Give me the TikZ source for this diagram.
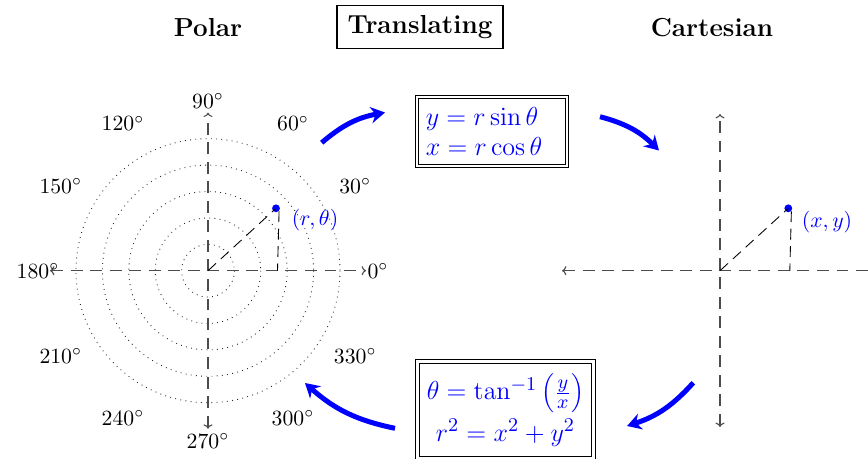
\documentclass[tikz,border=0pt]{standalone}
\usetikzlibrary{arrows.meta,calc}
\begin{document}
\begin{tikzpicture}[x=0.4608pt,y=-0.4608pt,
  title/.style={font=\large\bfseries},
  deg/.style={font=\normalsize},
  axis/.style={draw=black!70, line width=0.5pt, dash pattern=on 5.5pt off 3.5pt, {To[length=2pt]}-{To[length=2pt]}},
  ring/.style={draw=black!85, dotted, line width=0.4pt},
  helper/.style={draw=black, line width=0.4pt, dash pattern=on 5pt off 3pt},
  dotpt/.style={circle, fill=blue, inner sep=0pt, minimum size=3.6pt},
  ptlabel/.style={text=blue, font=\normalsize},
  formula/.style={draw, double, double distance=1.2pt, line width=0.4pt, text=blue},
  flow/.style={blue, line width=2.3pt, -{Stealth[length=6.5pt,width=7.5pt]}, bend left=15}
]
\clip (0,0) rectangle (868,458);
% titles
\node[title] (tp) at (208,28) {Polar};
\node[title, draw, thick, inner xsep=5pt, inner ysep=4.5pt] (tt) at (420,27) {Translating};
\node[title] (tc) at (712,28) {Cartesian};
% polar grid
\coordinate (P) at (208,270.7);
\foreach \k in {1,...,5} \draw[ring] (P) circle[radius={26.4*\k}];
\coordinate (PL) at (50,270.7);
\coordinate (PR) at (366,270.7);
\coordinate (PT) at (208,112.7);
\coordinate (PB) at (208,428.7);
\draw[axis] (PL) -- (PR);
\draw[axis] (PB) -- (PT);
\foreach \a in {0,30,...,330}
  \node[deg] (d\a) at ($(P)+({170*cos(\a)},{-170*sin(\a)})$) {$\a^\circ$};
\node[dotpt] (rp) at (276,208.3) {};
\coordinate (rf) at (277.5,270.7);
\draw[helper] (P) -- (rp.center);
\draw[helper] (rp.south east) -- (rf);
\node[ptlabel] (rl) at (315,220) {$(r,\theta)$};
% cartesian axes
\coordinate (C) at (720,270.7);
\coordinate (CL) at (562,270.7);
\coordinate (CR) at (878,270.7);
\coordinate (CT) at (720,114);
\coordinate (CB) at (720,427);
\draw[axis] (CL) -- (CR);
\draw[axis] (CB) -- (CT);
\node[dotpt] (cp) at (788.3,208.3) {};
\coordinate (cf) at (789.8,270.7);
\draw[helper] (C) -- (cp.center);
\draw[helper] (cp.south east) -- (cf);
\node[ptlabel] (cl) at (827,222) {$(x,y)$};
% formula boxes
\node[formula, align=left, text width=61pt, inner xsep=4pt, inner ysep=4.8pt,
  font=\fontsize{12.6}{14}\selectfont] (top) at (492,131.5)
  {\mbox{$y = r\sin\theta$}\\\mbox{$x = r\cos\theta$}};
\node[formula, align=center, inner xsep=4.3pt, inner ysep=5.6pt,
  font=\fontsize{12.7}{15.2}\selectfont] (bot) at (505.5,410)
  {$\theta = \tan^{-1}\left(\frac{y}{x}\right)$\\[2pt]$r^2 = x^2 + y^2$};
% flow arrows
\coordinate (f1s) at (321.7,142.7); \coordinate (f1e) at (385,112.5);
\coordinate (f2s) at (600,116.7);   \coordinate (f2e) at (659,150.5);
\coordinate (f3s) at (693.3,382.7); \coordinate (f3e) at (627,426);
\coordinate (f4s) at (395,428.3);   \coordinate (f4e) at (305,383);
\draw[flow] (f1s) to (f1e);
\draw[flow] (f2s) to (f2e);
\draw[flow] (f3s) to (f3e);
\draw[flow] (f4s) to (f4e);
\end{tikzpicture}
\end{document}
